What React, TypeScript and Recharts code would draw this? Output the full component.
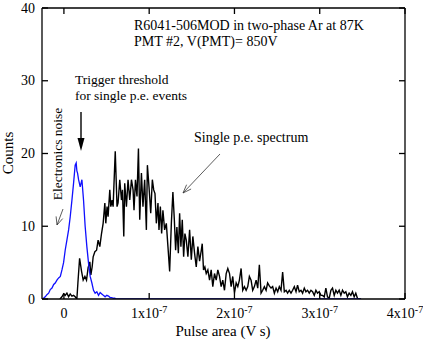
import React from 'react';
import { LineChart, Line, XAxis, YAxis } from 'recharts';

const FONT = "'Liberation Serif', 'Times New Roman', serif";

// x values are in units of 1e-7 V s
const X_TICKS = [0, 1, 2, 3, 4];
const X_TICK_MANTISSA = ['0', '1x10', '2x10', '3x10', '4x10'];
const X_TICK_EXP = ['', '-7', '-7', '-7', '-7'];
const Y_TICKS = [0, 10, 20, 30, 40];
const X_DOMAIN = [-0.257, 4];
const Y_DOMAIN = [0, 40];

// Electronics noise (blue)
const NOISE_X = [-0.25, -0.219, -0.2, -0.179, -0.16, -0.14, -0.12, -0.102, -0.082, -0.062, -0.042, -0.023, -0.004, 0.015, 0.035, 0.055, 0.074, 0.094, 0.113, 0.132, 0.144, 0.152, 0.16, 0.172, 0.191, 0.211, 0.23, 0.249, 0.269, 0.289, 0.308, 0.328, 0.347, 0.366, 0.386, 0.406, 0.425, 0.444, 0.463, 0.483, 0.503, 0.523, 0.542, 0.561, 0.58, 0.596, 0.62, 3.48];
const NOISE_Y = [0, 0.3, 0.6, 0.8, 1.3, 1.5, 2.0, 2.2, 2.6, 2.9, 3.1, 4.0, 5.0, 6.7, 8.1, 9.5, 11.3, 13.6, 15.9, 18.4, 18.7, 17.6, 17.3, 16.4, 15.4, 16.4, 13.6, 10.0, 7.2, 4.9, 3.1, 2.2, 1.2, 0.8, 1.0, 0.5, 0.9, 0.7, 0.5, 0.3, 0.5, 0.4, 0.2, 0.2, 0.1, 0.1, 0, 0];

// Single p.e. spectrum (black)
const SPE_X = [-0.047, -0.023, -0.004, 0.015, 0.035, 0.055, 0.074, 0.094, 0.113, 0.132, 0.152, 0.164, 0.184, 0.207, 0.226, 0.246, 0.265, 0.284, 0.304, 0.316, 0.331, 0.343, 0.363, 0.383, 0.401, 0.421, 0.441, 0.46, 0.48, 0.491, 0.506, 0.518, 0.538, 0.55, 0.565, 0.577, 0.602, 0.623, 0.635, 0.655, 0.675, 0.687, 0.702, 0.713, 0.733, 0.752, 0.772, 0.792, 0.811, 0.822, 0.839, 0.857, 0.874, 0.889, 0.909, 0.927, 0.947, 0.967, 0.979, 0.998, 1.018, 1.037, 1.053, 1.068, 1.084, 1.103, 1.115, 1.131, 1.146, 1.161, 1.181, 1.201, 1.22, 1.24, 1.26, 1.278, 1.295, 1.31, 1.325, 1.342, 1.357, 1.372, 1.388, 1.404, 1.419, 1.435, 1.454, 1.474, 1.494, 1.512, 1.532, 1.552, 1.571, 1.591, 1.611, 1.622, 1.637, 1.653, 1.669, 1.688, 1.708, 1.727, 1.746, 1.766, 1.786, 1.805, 1.825, 1.844, 1.863, 1.883, 1.903, 1.922, 1.942, 1.961, 1.98, 2.0, 2.02, 2.039, 2.058, 2.078, 2.097, 2.117, 2.137, 2.156, 2.175, 2.195, 2.214, 2.234, 2.254, 2.273, 2.292, 2.312, 2.331, 2.351, 2.371, 2.389, 2.409, 2.429, 2.448, 2.468, 2.488, 2.507, 2.526, 2.546, 2.565, 2.585, 2.605, 2.623, 2.643, 2.663, 2.682, 2.702, 2.722, 2.74, 2.76, 2.78, 2.799, 2.819, 2.838, 2.857, 2.877, 2.897, 2.916, 2.936, 2.955, 2.974, 2.994, 3.014, 3.033, 3.053, 3.072, 3.091, 3.111, 3.131, 3.15, 3.17, 3.189, 3.208, 3.228, 3.248, 3.267, 3.287, 3.306, 3.325, 3.345, 3.365, 3.384, 3.404, 3.423, 3.442, 3.462, 3.485];
const SPE_Y = [0, 0.3, 0.7, 0.5, 0.8, 0.3, 0.7, 0.4, 0.5, 0.3, 0, 2.2, 5.6, 3.8, 2.6, 3.1, 2.6, 4.3, 5.1, 3.3, 4.4, 5.8, 6.5, 6.7, 8.1, 7.2, 9.0, 10.4, 13.2, 10.4, 12.7, 11.3, 15.0, 12.7, 13.6, 12.7, 20.3, 12.7, 13.2, 16.4, 13.6, 15.0, 8.6, 15.9, 12.7, 16.4, 13.6, 16.4, 15.0, 12.2, 16.4, 14.1, 20.7, 10.9, 17.3, 12.7, 16.4, 9.5, 18.4, 15.4, 11.8, 16.4, 15.0, 14.5, 10.4, 13.2, 9.5, 12.7, 9.0, 12.2, 9.5, 10.4, 7.2, 3.8, 10.4, 14.7, 10.9, 6.7, 9.9, 6.3, 11.8, 7.2, 10.9, 5.8, 9.0, 8.1, 5.8, 9.5, 5.4, 8.6, 6.3, 4.4, 7.2, 5.2, 6.7, 7.6, 4.0, 4.4, 3.5, 4.0, 2.6, 4.0, 1.7, 3.5, 2.6, 4.0, 3.1, 1.7, 2.6, 1.2, 3.5, 4.2, 3.5, 1.7, 3.1, 0.8, 2.2, 1.7, 2.6, 4.2, 1.2, 1.7, 1.2, 1.7, 3.1, 2.6, 1.2, 1.7, 2.6, 1.5, 4.7, 0.8, 1.2, 1.7, 1.2, 2.2, 1.8, 1.5, 1.7, 0.8, 1.5, 1.0, 1.7, 1.2, 3.7, 1.0, 1.2, 0.8, 1.2, 0.8, 1.2, 1.7, 1.0, 1.9, 1.0, 1.2, 0.8, 1.5, 1.0, 1.2, 0.8, 1.2, 1.0, 0.5, 1.2, 0.8, 1.0, 0.5, 0.5, 0.3, 1.5, 0.3, 0.1, 1.2, 1.5, 0.5, 1.2, 0.8, 1.2, 0.5, 1.2, 0.8, 1.0, 0.3, 0.8, 0.5, 1.0, 0.3, 0.8, 0.1, 0, 0];

const noiseData = NOISE_X.map((x, i) => ({ x, y: NOISE_Y[i] }));
const speData = SPE_X.map((x, i) => ({ x, y: SPE_Y[i] }));

const TICK_LEN = 6;
const AXIS_STROKE = 1.3;

const XTickBottom = (props: any) => {
  const { x, y, payload } = props;
  const i = X_TICKS.indexOf(payload.value);
  return (
    <g>
      <line x1={x} y1={y} x2={x} y2={y - TICK_LEN} stroke="#000" strokeWidth={AXIS_STROKE} />
      <text x={x} y={y + 19} textAnchor="middle" fontSize={14} fontFamily={FONT} fill="#000">
        {X_TICK_MANTISSA[i]}
        {X_TICK_EXP[i] ? (
          <tspan dy={-5} fontSize={10}>
            {X_TICK_EXP[i]}
          </tspan>
        ) : null}
      </text>
    </g>
  );
};

const XTickTop = (props: any) => {
  const { x, y } = props;
  return <line x1={x} y1={y} x2={x} y2={y + TICK_LEN} stroke="#000" strokeWidth={AXIS_STROKE} />;
};

const YTickLeft = (props: any) => {
  const { x, y, payload } = props;
  return (
    <g>
      <line x1={x} y1={y} x2={x + TICK_LEN} y2={y} stroke="#000" strokeWidth={AXIS_STROKE} />
      <text x={x - 7} y={y + 4.5} textAnchor="end" fontSize={14} fontFamily={FONT} fill="#000">
        {payload.value}
      </text>
    </g>
  );
};

const YTickRight = (props: any) => {
  const { x, y } = props;
  return <line x1={x} y1={y} x2={x - TICK_LEN} y2={y} stroke="#000" strokeWidth={AXIS_STROKE} />;
};

const axisLine = { stroke: '#000', strokeWidth: AXIS_STROKE };

export default function App() {
  return (
    <div style={{ position: 'absolute', left: 0, top: 0, width: 423, height: 344, background: '#fff' }}>
      <LineChart
        width={423}
        height={344}
        margin={{ top: 0, right: 0, bottom: 0, left: 0 }}
        style={{ position: 'absolute', left: 0, top: 0 }}
      >
        <XAxis
          xAxisId="b"
          type="number"
          dataKey="x"
          domain={X_DOMAIN}
          ticks={X_TICKS}
          allowDataOverflow
          height={45}
          tickSize={0}
          tickMargin={0}
          tickLine={false}
          axisLine={axisLine}
          tick={<XTickBottom />}
          interval={0}
        />
        <XAxis
          xAxisId="t"
          orientation="top"
          type="number"
          dataKey="x"
          domain={X_DOMAIN}
          ticks={X_TICKS}
          allowDataOverflow
          height={8}
          tickSize={0}
          tickMargin={0}
          tickLine={false}
          axisLine={axisLine}
          tick={<XTickTop />}
          interval={0}
        />
        <YAxis
          yAxisId="l"
          type="number"
          domain={Y_DOMAIN}
          ticks={Y_TICKS}
          allowDataOverflow
          width={42}
          tickSize={0}
          tickMargin={0}
          tickLine={false}
          axisLine={axisLine}
          tick={<YTickLeft />}
          interval={0}
        />
        <YAxis
          yAxisId="r"
          orientation="right"
          type="number"
          domain={Y_DOMAIN}
          ticks={Y_TICKS}
          allowDataOverflow
          width={18}
          tickSize={0}
          tickMargin={0}
          tickLine={false}
          axisLine={axisLine}
          tick={<YTickRight />}
          interval={0}
        />
        <Line
          xAxisId="b"
          yAxisId="l"
          data={speData}
          dataKey="y"
          type="linear"
          stroke="#000"
          strokeWidth={1.4}
          dot={false}
          isAnimationActive={false}
        />
        <Line
          xAxisId="b"
          yAxisId="l"
          data={noiseData}
          dataKey="y"
          type="linear"
          stroke="#1010ff"
          strokeWidth={1.3}
          dot={false}
          isAnimationActive={false}
        />
      </LineChart>
      <svg
        width={423}
        height={344}
        style={{ position: 'absolute', left: 0, top: 0, pointerEvents: 'none' }}
        fontFamily={FONT}
      >
        <text x={134} y={30} fontSize={14} fill="#000">R6041-506MOD in two-phase Ar at 87K</text>
        <text x={134} y={46} fontSize={14} fill="#000">PMT #2, V(PMT)= 850V</text>
        <text x={75} y={84} fontSize={13.5} fill="#000">Trigger threshold</text>
        <text x={75} y={100} fontSize={13.5} fill="#000">for single p.e. events</text>
        <line x1={81} y1={112} x2={81} y2={140} stroke="#000" strokeWidth={1.4} />
        <polygon points="77.5,138 84.5,138 81,151" fill="#000" />
        <text x={194} y={142} fontSize={14} fill="#000">Single p.e. spectrum</text>
        <line x1={220} y1={154} x2={183} y2={193} stroke="#333" strokeWidth={0.8} />
        <polyline points="191.1,189 183,193 186.6,184.7" fill="none" stroke="#333" strokeWidth={0.8} />
        <text
          x={62}
          y={154}
          fontSize={13.5}
          fill="#000"
          textAnchor="middle"
          transform="rotate(-90 62 154)"
        >
          Electronics noise
        </text>
        <line x1={63} y1={209} x2={57} y2={225} stroke="#333" strokeWidth={0.8} />
        <polyline points="56.1,216.4 57,225 62.7,218.6" fill="none" stroke="#333" strokeWidth={0.8} />
        <text
          x={13}
          y={153}
          fontSize={15}
          fill="#000"
          textAnchor="middle"
          transform="rotate(-90 13 153)"
        >
          Counts
        </text>
        <text x={223} y={336} fontSize={15} fill="#000" textAnchor="middle">
          Pulse area (V s)
        </text>
      </svg>
    </div>
  );
}
